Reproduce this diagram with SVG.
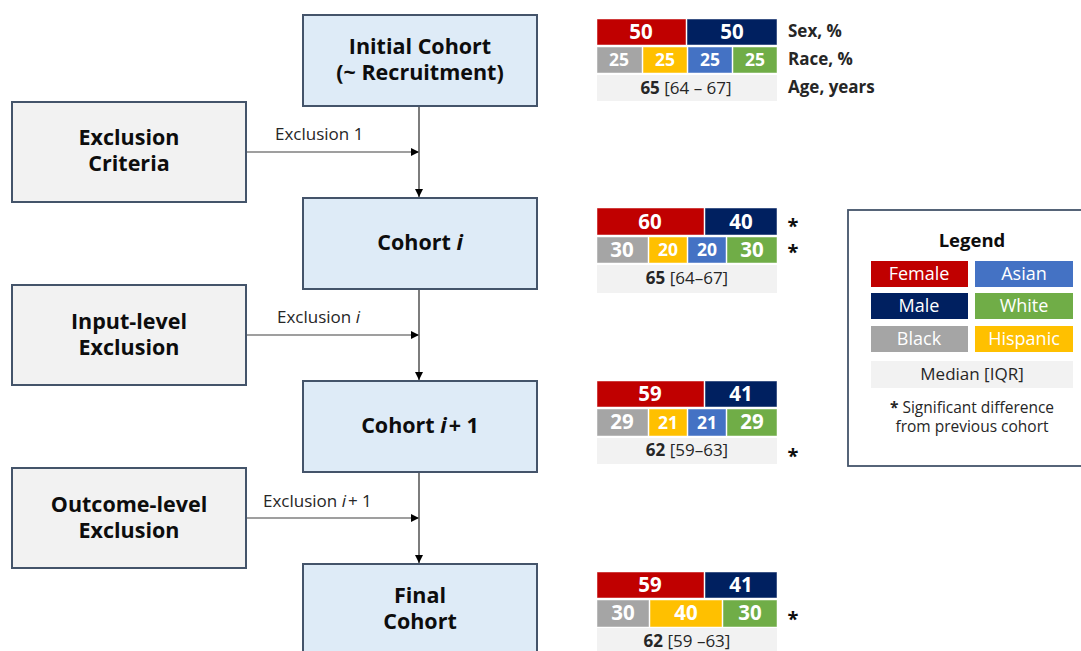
<svg xmlns="http://www.w3.org/2000/svg" width="1081" height="651" viewBox="0 0 1081 651">
<defs>
<style>
text{font-family:"Open Sans","Liberation Sans",sans-serif}
.cohort{fill:#DEEBF7;stroke:#44546A;stroke-width:2}
.excl{fill:#F2F2F2;stroke:#44546A;stroke-width:2}
.nt{font-size:21.5px;font-weight:bold;fill:#0D0D0D;text-anchor:middle}
.lbl{font-size:17px;fill:#262626}
.hline{stroke:#7F7F7F;stroke-width:1.5;fill:none}
.vline{stroke:#262626;stroke-width:1.2;fill:none}
.red{fill:#C00000}.navy{fill:#002060}.gray{fill:#A5A5A5}.yel{fill:#FFC000}.blue{fill:#4472C4}.green{fill:#70AD47}.age{fill:#F2F2F2}
.cell{stroke:#FFFFFF;stroke-width:0.8;stroke-opacity:0.6}
.big{font-size:20.5px;font-weight:bold;fill:#FFFFFF;text-anchor:middle}
.sm{font-size:17.5px;font-weight:bold;fill:#FFFFFF;text-anchor:middle}
.agt{font-size:17px;fill:#262626;text-anchor:middle}
.side{font-size:17px;font-weight:bold;fill:#262626}
.star{font-size:20px;font-weight:bold;fill:#0D0D0D;text-anchor:middle}
.leg{font-size:18px;fill:#FFFFFF;text-anchor:middle}
.legd{font-size:17px;fill:#262626;text-anchor:middle}
</style>
<marker id="ah" viewBox="0 0 10 10" refX="10" refY="5" markerWidth="10" markerHeight="8" markerUnits="userSpaceOnUse" orient="auto">
<path d="M0,0 L10,5 L0,10 z" fill="#000000"/>
</marker>
</defs>
<rect width="1081" height="651" fill="#FFFFFF"/>

<g id="connectors">
<line class="vline" x1="419" y1="106" x2="419" y2="197" marker-end="url(#ah)"/>
<line class="vline" x1="419" y1="289" x2="419" y2="380" marker-end="url(#ah)"/>
<line class="vline" x1="419" y1="472" x2="419" y2="563" marker-end="url(#ah)"/>
<line class="hline" x1="246" y1="152" x2="419" y2="152" marker-end="url(#ah)"/>
<line class="hline" x1="246" y1="335" x2="419" y2="335" marker-end="url(#ah)"/>
<line class="hline" x1="246" y1="518" x2="419" y2="518" marker-end="url(#ah)"/>
<text class="lbl" x="275" y="140">Exclusion 1</text>
<text class="lbl" x="277" y="323">Exclusion <tspan font-style="italic">i</tspan></text>
<text class="lbl" x="263" y="507">Exclusion <tspan font-style="italic">i</tspan><tspan dx="2">+ 1</tspan></text>
</g>

<g id="initial-cohort">
<rect class="cohort" x="303" y="15" width="234" height="91"/>
<text class="nt" x="420" y="54">Initial Cohort</text>
<text class="nt" x="420" y="80">(~ Recruitment)</text>
</g>
<g id="exclusion-criteria">
<rect class="excl" x="12" y="102" width="234" height="100"/>
<text class="nt" x="129" y="145">Exclusion</text>
<text class="nt" x="129" y="171">Criteria</text>
</g>
<g id="cohort-i">
<rect class="cohort" x="303" y="198" width="234" height="91"/>
<text class="nt" x="420" y="250">Cohort <tspan font-style="italic">i</tspan></text>
</g>
<g id="input-level-exclusion">
<rect class="excl" x="12" y="285" width="234" height="100"/>
<text class="nt" x="129" y="329">Input-level</text>
<text class="nt" x="129" y="355">Exclusion</text>
</g>
<g id="cohort-i1">
<rect class="cohort" x="303" y="381" width="234" height="91"/>
<text class="nt" x="420" y="433">Cohort <tspan font-style="italic">i</tspan><tspan dx="2">+ 1</tspan></text>
</g>
<g id="outcome-level-exclusion">
<rect class="excl" x="12" y="468" width="234" height="100"/>
<text class="nt" x="129" y="512">Outcome-level</text>
<text class="nt" x="129" y="538">Exclusion</text>
</g>
<g id="final-cohort">
<rect class="cohort" x="303" y="564" width="234" height="100"/>
<text class="nt" x="420" y="603">Final</text>
<text class="nt" x="420" y="629">Cohort</text>
</g>

<g id="stats-initial">
<rect class="red cell" x="597" y="19" width="89" height="26"/>
<rect class="navy cell" x="687" y="19" width="90" height="26"/>
<rect class="gray cell" x="597" y="47" width="45" height="26"/>
<rect class="yel cell" x="643" y="47" width="44" height="26"/>
<rect class="blue cell" x="688" y="47" width="44" height="26"/>
<rect class="green cell" x="733" y="47" width="44" height="26"/>
<rect class="age" x="597" y="75" width="180" height="26"/>
<text class="big" x="641" y="39">50</text>
<text class="big" x="732" y="39">50</text>
<text class="sm" x="619" y="66">25</text>
<text class="sm" x="665" y="66">25</text>
<text class="sm" x="710" y="66">25</text>
<text class="sm" x="755" y="66">25</text>
<text class="agt" x="686" y="94"><tspan font-weight="bold">65</tspan> [64 – 67]</text>
<text class="side" x="788" y="37">Sex, %</text>
<text class="side" x="788" y="65">Race, %</text>
<text class="side" x="788" y="93">Age, years</text>
</g>

<g id="stats-cohort-i">
<rect class="red cell" x="597" y="208" width="107" height="27"/>
<rect class="navy cell" x="705" y="208" width="72" height="27"/>
<rect class="gray cell" x="597" y="237" width="51" height="26"/>
<rect class="yel cell" x="649" y="237" width="38" height="26"/>
<rect class="blue cell" x="688" y="237" width="38" height="26"/>
<rect class="green cell" x="727" y="237" width="50" height="26"/>
<rect class="age" x="597" y="265" width="180" height="28"/>
<text class="big" x="650" y="229">60</text>
<text class="big" x="741" y="229">40</text>
<text class="big" x="622" y="257">30</text>
<text class="sm" x="668" y="256">20</text>
<text class="sm" x="707" y="256">20</text>
<text class="big" x="752" y="257">30</text>
<text class="agt" x="687" y="284"><tspan font-weight="bold">65</tspan> [64–67]</text>
<text class="star" x="793" y="233">*</text>
<text class="star" x="793" y="259">*</text>
</g>

<g id="stats-cohort-i1">
<rect class="red cell" x="597" y="381" width="107" height="26"/>
<rect class="navy cell" x="705" y="381" width="72" height="26"/>
<rect class="gray cell" x="597" y="409" width="51" height="27"/>
<rect class="yel cell" x="649" y="409" width="38" height="27"/>
<rect class="blue cell" x="688" y="409" width="38" height="27"/>
<rect class="green cell" x="727" y="409" width="50" height="27"/>
<rect class="age" x="597" y="438" width="180" height="26"/>
<text class="big" x="650" y="401">59</text>
<text class="big" x="741" y="401">41</text>
<text class="big" x="622" y="429">29</text>
<text class="sm" x="668" y="429">21</text>
<text class="sm" x="707" y="429">21</text>
<text class="big" x="752" y="429">29</text>
<text class="agt" x="687" y="456"><tspan font-weight="bold">62</tspan> [59–63]</text>
<text class="star" x="793" y="463">*</text>
</g>

<g id="stats-final">
<rect class="red cell" x="597" y="572" width="107" height="26"/>
<rect class="navy cell" x="705" y="572" width="72" height="26"/>
<rect class="gray cell" x="597" y="600" width="52" height="27"/>
<rect class="yel cell" x="650" y="600" width="72" height="27"/>
<rect class="green cell" x="723" y="600" width="54" height="27"/>
<rect class="age" x="597" y="628" width="180" height="26"/>
<text class="big" x="650" y="592">59</text>
<text class="big" x="741" y="592">41</text>
<text class="big" x="623" y="620">30</text>
<text class="big" x="686" y="620">40</text>
<text class="big" x="750" y="620">30</text>
<text class="agt" x="687" y="647"><tspan font-weight="bold">62</tspan> [59 –63]</text>
<text class="star" x="793" y="626">*</text>
</g>

<g id="legend">
<rect x="848" y="210" width="240" height="256" fill="#FFFFFF" stroke="#44546A" stroke-width="1.8"/>
<text x="972" y="247" font-size="18.5" font-weight="bold" fill="#0D0D0D" text-anchor="middle">Legend</text>
<rect class="red" x="871" y="261" width="97" height="26"/>
<rect class="blue" x="975" y="261" width="98" height="26"/>
<rect class="navy" x="871" y="293" width="97" height="26"/>
<rect class="green" x="975" y="293" width="98" height="26"/>
<rect class="gray" x="871" y="326" width="97" height="26"/>
<rect class="yel" x="975" y="326" width="98" height="26"/>
<rect class="age" x="871" y="361" width="202" height="27"/>
<text class="leg" x="919" y="280">Female</text>
<text class="leg" x="1024" y="280">Asian</text>
<text class="leg" x="919" y="312">Male</text>
<text class="leg" x="1024" y="312">White</text>
<text class="leg" x="919" y="345">Black</text>
<text class="leg" x="1024" y="345">Hispanic</text>
<text class="legd" x="972" y="380">Median [IQR]</text>
<text x="972" y="413" font-size="15.5" fill="#262626" text-anchor="middle"><tspan font-weight="bold">*</tspan> Significant difference</text>
<text x="972" y="432" font-size="15.5" fill="#262626" text-anchor="middle">from previous cohort</text>
</g>
</svg>
